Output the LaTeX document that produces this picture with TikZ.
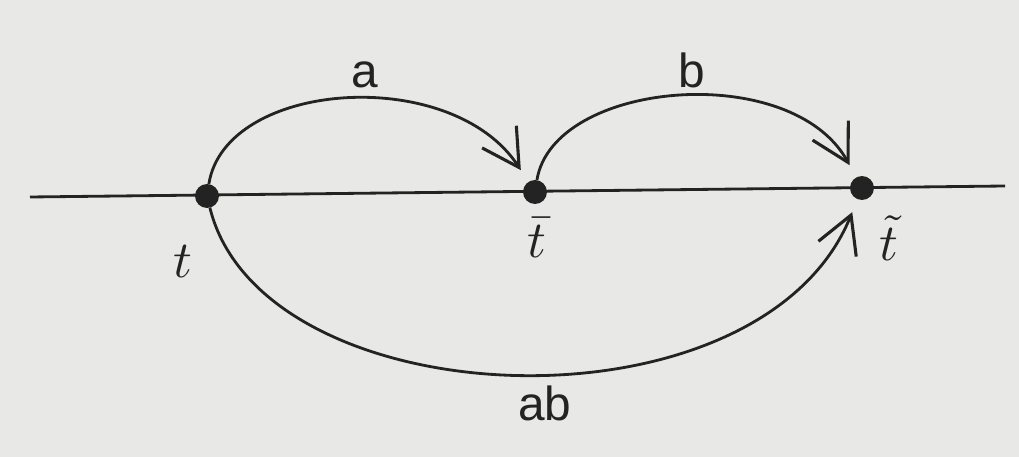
\documentclass[tikz,border=0pt]{standalone}
\usepackage{fontspec}
\setsansfont{Liberation Sans}
\usetikzlibrary{arrows.meta}
\definecolor{paper}{RGB}{232,232,230}
\definecolor{ink}{RGB}{35,35,35}

\begin{document}
\begin{tikzpicture}[x=0.025cm,y=-0.025cm,line width=2pt,ink,
  pt/.style={circle,fill=ink,draw=ink,inner sep=0pt,minimum size=15pt},
  jump/.style={-{Straight Barb[length=26pt,width=29pt,line width=2.2pt]},shorten >=10pt},
  lbl/.style={font=\sffamily\fontsize{34}{40}\selectfont},
  tlbl/.style={font=\fontsize{10}{12}\selectfont}]
\fill[paper] (0,0) rectangle (1019,457);
\useasboundingbox (0,0) rectangle (1019,457);
% time axis
\coordinate (left) at (30,197);
\coordinate (right) at (1005,186);
\draw (left) -- (right);
% the three instants
\foreach \n/\x/\y in {t0/207/196,t1/535/192,t2/862/188} {
   \node[pt] (\n) at (\x,\y) {};
}
\node[tlbl] (lt0) at (183,262) {\scalebox{3.7}{$t$}};
\node[tlbl] (lt1) at (537,238) {\scalebox{3.7}{$\bar t$}};
\node[tlbl] (lt2) at (889,238) {\scalebox{3.7}{$\tilde t$}};
% jumps
\draw[jump] (t0) .. controls (225,80) and (452,64) .. (t1);
\draw[jump] (t1) .. controls (553,80) and (792,60) .. (t2);
\draw[jump] (t0) .. controls (262,420) and (760,440) .. (t2);
\node[lbl] (la) at (365,75) {a};
\node[lbl] (lb) at (692,70) {b};
\node[lbl] (lab) at (545,403) {ab};
\end{tikzpicture}
\end{document}
